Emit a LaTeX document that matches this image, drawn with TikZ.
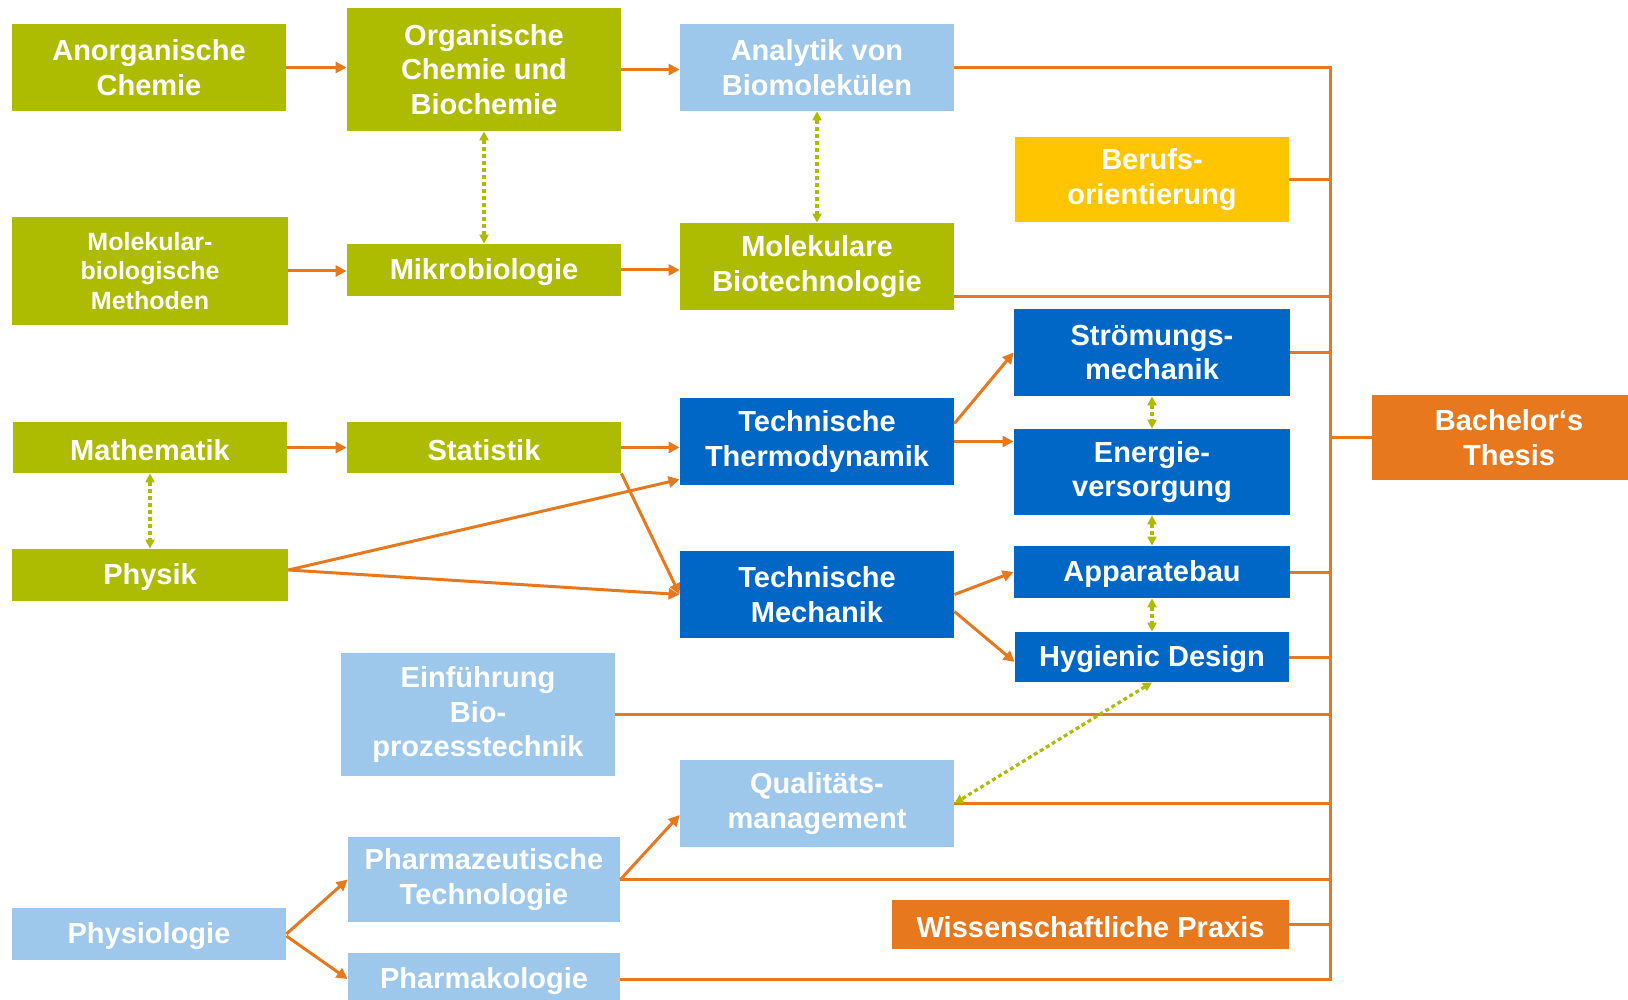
\documentclass[tikz,border=0pt]{standalone}
\usepackage{fontspec}
\setmainfont{Liberation Sans}
\usetikzlibrary{arrows.meta}
\definecolor{modgreen}{RGB}{173,188,0}
\definecolor{modlightblue}{RGB}{157,200,236}
\definecolor{modblue}{RGB}{0,103,198}
\definecolor{modorange}{RGB}{232,120,30}
\definecolor{modyellow}{RGB}{255,198,0}

\begin{document}
\begin{tikzpicture}[
  x=0.5pt, y=-0.5pt,
  box/.style={rectangle, inner sep=0pt, align=center, text=white, minimum width=137pt,
    font=\fontsize{14.5}{17.4}\selectfont\bfseries, execute at begin node={\rule{0pt}{13pt}}},
  gruen/.style={box, fill=modgreen},
  hellblau/.style={box, fill=modlightblue},
  blau/.style={box, fill=modblue},
  pfeil/.style={draw=modorange, line width=1.5pt, -{Triangle[length=5.5pt,width=5.5pt]}},
  linie/.style={draw=modorange, line width=1.5pt},
  wechsel/.style={draw=modgreen, line width=1.6pt, dash pattern=on 2pt off 1.5pt,
    {Triangle[length=4.5pt,width=4.5pt]}-{Triangle[length=4.5pt,width=4.5pt]}}
]
\useasboundingbox (0,0) rectangle (1628,1000);

% Chemie und Biologie
\node[gruen, minimum height=43.5pt] (anorg) at (149,67.5) {Anorganische\\Chemie};
\node[gruen, minimum height=61.5pt] (organ) at (484,69.5) {Organische\\Chemie und\\Biochemie};
\node[hellblau, minimum height=43.5pt] (analyt) at (817,67.5) {Analytik von\\Biomolekülen};
\node[box, fill=modyellow, minimum height=42.5pt] (berufs) at (1152,179.5) {Berufs-\\orientierung};
\node[gruen, minimum width=138pt, minimum height=54pt,
  font=\fontsize{12.5}{14.8}\selectfont\bfseries, execute at begin node={\rule{0pt}{10pt}}]
  (molbio) at (150,271) {Molekular-\\biologische\\Methoden};
\node[gruen, minimum height=26pt] (mikro) at (484,270) {Mikrobiologie};
\node[gruen, minimum height=43.5pt] (molbt) at (817,266.5) {Molekulare\\Biotechnologie};

% Technik
\node[blau, minimum width=138pt, minimum height=43.5pt] (stroem) at (1152,352.5) {Strömungs-\\mechanik};
\node[gruen, minimum height=25.5pt] (mathe) at (150,447.5) {Mathematik};
\node[gruen, minimum height=25.5pt] (stat) at (484,447.5) {Statistik};
\node[blau, minimum height=43.5pt] (thermo) at (817,441.5) {Technische\\Thermodynamik};
\node[blau, minimum width=138pt, minimum height=43pt] (energie) at (1152,472) {Energie-\\versorgung};
\node[gruen, minimum width=138pt, minimum height=26pt] (physik) at (150,575) {Physik};
\node[blau, minimum height=43.5pt] (mech) at (817,594.5) {Technische\\Mechanik};
\node[blau, minimum width=138pt, minimum height=26pt] (appar) at (1152,572) {Apparatebau};
\node[blau, minimum height=25pt] (hygien) at (1152,657) {Hygienic Design};

% Pharma
\node[hellblau, minimum height=61.5pt] (einf) at (478,714.5) {Einführung\\Bio-\\prozesstechnik};
\node[hellblau, minimum height=43.5pt] (quali) at (817,803.5) {Qualitäts-\\management};
\node[hellblau, minimum width=136pt, minimum height=42.5pt] (pharmaz) at (484,879.5) {Pharmazeutische\\Technologie};
\node[box, fill=modorange, minimum width=198.5pt, minimum height=24.5pt] (wiss) at (1090.5,924.5) {Wissenschaftliche Praxis};
\node[hellblau, minimum height=26pt] (physio) at (149,934) {Physiologie};
\node[hellblau, minimum width=136pt, minimum height=26pt] (pharmak) at (484,979) {Pharmakologie};

\node[box, fill=modorange, minimum height=42.5pt] (thesis) at (1509,437.5) {Bachelor‘s\\Thesis};

% Sammelschiene zur Thesis
\coordinate (bus) at (1330,0);
\coordinate (mbt) at ([yshift=7pt]molbt.south east);
\draw[linie] (analyt.east) -- (analyt.east -| bus) -- (pharmak.east -| bus) -- (pharmak.east);
\draw[linie] (berufs.east) -- (berufs.east -| bus);
\draw[linie] (mbt) -- (mbt -| bus);
\draw[linie] (stroem.east) -- (stroem.east -| bus);
\draw[linie] (thesis.west -| bus) -- (thesis.west);
\draw[linie] (appar.east) -- (appar.east -| bus);
\draw[linie] (hygien.east) -- (hygien.east -| bus);
\draw[linie] (einf.east) -- (einf.east -| bus);
\draw[linie] (quali.east) -- (quali.east -| bus);
\draw[linie] (pharmaz.east) -- (pharmaz.east -| bus);
\draw[linie] (wiss.east) -- (wiss.east -| bus);

% Pfeile
\draw[pfeil] (anorg.east) -- (anorg.east -| organ.west);
\draw[pfeil] (organ.east) -- (organ.east -| analyt.west);
\draw[pfeil] (molbio.east) -- (molbio.east -| mikro.west);
\draw[pfeil] (mikro.east) -- (mikro.east -| molbt.west);
\draw[pfeil] (mathe.east) -- (stat.west);
\draw[pfeil] (stat.east) -- (stat.east -| thermo.west);
\draw[pfeil] (stat.south east) -- (mech.west);
\draw[pfeil] ([yshift=2.5pt]physik.east) -- ([yshift=3pt]thermo.south west);
\draw[pfeil] ([yshift=2.5pt]physik.east) -- (mech.west);
\draw[pfeil] ([yshift=9pt]thermo.east) -- (stroem.west);
\draw[pfeil] (thermo.east) -- (thermo.east -| energie.west);
\draw[pfeil] (mech.east) -- (appar.west);
\draw[pfeil] ([yshift=-8.5pt]mech.east) -- ([yshift=-2.5pt]hygien.west);
\draw[pfeil] (physio.east) -- (pharmaz.west);
\draw[pfeil] ([yshift=-1pt]physio.east) -- (pharmak.west);
\draw[pfeil] (pharmaz.east) -- ([yshift=-5.75pt]quali.west);

% Wechselbeziehungen
\draw[wechsel] (organ.south) -- (mikro.north);
\draw[wechsel] (analyt.south) -- (molbt.north);
\draw[wechsel] (mathe.south) -- (physik.north);
\draw[wechsel] (stroem.south) -- (energie.north);
\draw[wechsel] (energie.south) -- (appar.north);
\draw[wechsel] (appar.south) -- (hygien.north);
\draw[wechsel] (hygien.south) -- (quali.east);

\end{tikzpicture}
\end{document}
